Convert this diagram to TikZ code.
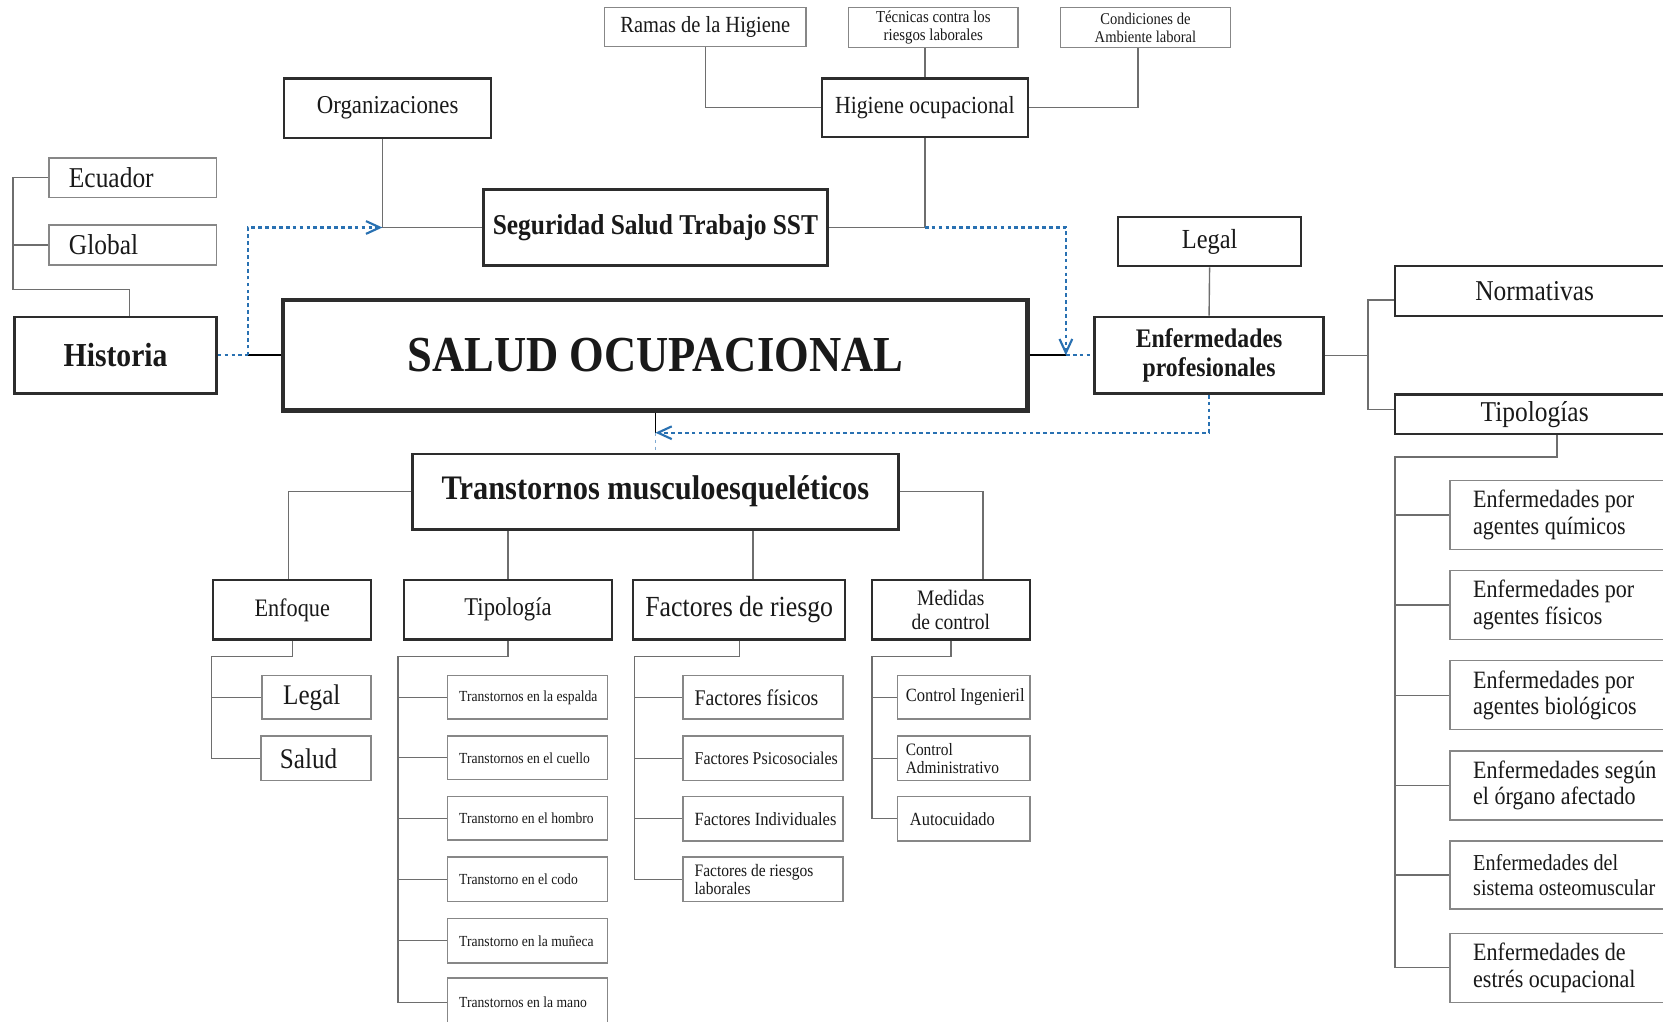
\documentclass[tikz,border=0pt]{standalone}
\usepackage{fontspec}
\setmainfont{Liberation Serif}[FakeStretch=0.885]
\usetikzlibrary{arrows.meta}
\definecolor{linkblue}{RGB}{41,113,178}
\definecolor{boxdark}{RGB}{45,45,45}
\definecolor{boxgray}{RGB}{135,135,135}
\definecolor{wirecol}{RGB}{110,110,110}
\definecolor{ink}{RGB}{25,25,25}
\newcommand{\fsz}[2]{\fontsize{#1}{#2}\selectfont}
\tikzset{
  nbox/.style={draw=boxdark, line width=2pt, text=ink, inner sep=0pt, align=center},
  mainbox/.style={nbox, line width=2.6pt},
  minor/.style={nbox, draw=boxgray, line width=1.4pt},
  lefttext/.style={align=flush left, inner xsep=#1},
  wire/.style={draw=wirecol, line width=1.3pt},
  heavy/.style={draw=black, line width=2.2pt},
  dotlink/.style={draw=linkblue, line width=2pt, dash pattern=on 3.5pt off 3pt},
  barb/.style={-{Straight Barb[length=13pt,width=12pt,line width=2pt]}}
}
\begin{document}
\begin{tikzpicture}[x=1pt,y=-1pt]
\clip (0,0) rectangle (1568,963);
\fill[white] (0,0) rectangle (1568,963);

% ---------- upper branch: hygiene ----------
\node[minor, minimum width=190, minimum height=37, font={\fsz{21.8}{25}}] (ramas) at (665,25.5) {Ramas de la Higiene};
\node[minor, minimum width=160, minimum height=38, font={\fsz{15.8}{17}}] (tec) at (880,26) {Técnicas contra los\\riesgos laborales};
\node[minor, minimum width=160, minimum height=38, font={\fsz{15.5}{17}}] (cond) at (1080,26) {Condiciones de\\Ambiente laboral};
\node[nbox, minimum width=194, minimum height=55, font={\fsz{23.2}{26}}] (hig) at (872,101.5) {Higiene ocupacional};
\node[nbox, minimum width=195, minimum height=56, font={\fsz{24.3}{27}}] (org) at (365.5,102) {Organizaciones};
\node[mainbox, minimum width=324, minimum height=71, font={\bfseries\fsz{27.1}{30}}] (sst) at (618,214.5) {Seguridad Salud Trabajo SST};

% ---------- history ----------
\node[minor, lefttext=19, text width=120, minimum height=37, font={\fsz{27.1}{30}}] (ecu) at (125,167.5) {Ecuador};
\node[minor, lefttext=19, text width=120, minimum height=38, font={\fsz{27.1}{30}}] (glob) at (125,231) {Global};
\node[mainbox, minimum width=190, minimum height=72, font={\bfseries\fsz{31.6}{34}}] (hist) at (109,335) {Historia};

% ---------- centre ----------
\node[mainbox, line width=4.2pt, minimum width=702, minimum height=104, font={\bfseries\fsz{47.5}{50}}] (salud) at (618,335) {SALUD OCUPACIONAL};

% ---------- occupational diseases ----------
\node[nbox, minimum width=173, minimum height=46, font={\fsz{26}{29}}] (legal) at (1140.5,228) {Legal};
\node[mainbox, minimum width=216, minimum height=72, font={\bfseries\fsz{25.3}{27}}] (enf) at (1140,335) {Enfermedades\\profesionales};
\node[nbox, minimum width=264, minimum height=47, font={\fsz{27.1}{30}}] (norm) at (1447,274.5) {Normativas};
\node[nbox, minimum width=264, minimum height=37, font={\fsz{27.1}{30}}] (tip) at (1447,390.5) {Tipologías};
\node[minor, lefttext=22, text width=186, minimum height=65, font={\fsz{23.5}{25}}] (ep1) at (1482,485.5) {\mbox{Enfermedades por}\\\mbox{agentes químicos}};
\node[minor, lefttext=22, text width=186, minimum height=65, font={\fsz{23.5}{25}}] (ep2) at (1482,570.5) {\mbox{Enfermedades por}\\\mbox{agentes físicos}};
\node[minor, lefttext=22, text width=186, minimum height=65, font={\fsz{23.5}{25}}] (ep3) at (1482,655.5) {\mbox{Enfermedades por}\\\mbox{agentes biológicos}};
\node[minor, lefttext=22, text width=186, minimum height=65, font={\fsz{23.5}{25}}] (ep4) at (1482,740.5) {\mbox{Enfermedades según}\\\mbox{el órgano afectado}};
\node[minor, lefttext=22, text width=186, minimum height=64, font={\fsz{21.5}{24}}] (ep5) at (1482,825) {\mbox{Enfermedades del}\\\mbox{sistema osteomuscular}};
\node[minor, lefttext=22, text width=186, minimum height=65, font={\fsz{23.5}{25}}] (ep6) at (1482,912.5) {\mbox{Enfermedades de}\\\mbox{estrés ocupacional}};

% ---------- musculoskeletal disorders ----------
\node[mainbox, minimum width=458, minimum height=71, font={\bfseries\fsz{32.4}{35}}] (tr) at (618,463.5) {Transtornos musculoesqueléticos};
\node[nbox, minimum width=149, minimum height=56, font={\fsz{23.7}{26}}] (enfq) at (275.5,575) {Enfoque};
\node[nbox, minimum width=196, minimum height=56, font={\fsz{24.1}{26}}] (tipo) at (479,575) {Tipología};
\node[nbox, minimum width=200, minimum height=56, font={\fsz{27.5}{30}}] (fac) at (697,575) {Factores de riesgo};
\node[nbox, minimum width=149, minimum height=56, font={\fsz{20.8}{23}}] (med) at (896.5,575) {Medidas\\de control};

\node[minor, lefttext=20, text width=63, minimum height=41, font={\fsz{26.8}{29}}] (leg2) at (298.5,657.5) {Legal};
\node[minor, lefttext=18, text width=68, minimum height=42, font={\fsz{26.8}{29}}] (sal) at (298,715) {Salud};

\node[minor, lefttext=11, text width=129, minimum height=41, font={\fsz{14.5}{17}}] (t1) at (497.5,657.5) {\mbox{Transtornos en la espalda}};
\node[minor, lefttext=11, text width=129, minimum height=41, font={\fsz{14.5}{17}}] (t2) at (497.5,714.5) {\mbox{Transtornos en el cuello}};
\node[minor, lefttext=11, text width=129, minimum height=41, font={\fsz{14.5}{17}}] (t3) at (497.5,771.5) {\mbox{Transtorno en el hombro}};
\node[minor, lefttext=11, text width=129, minimum height=42, font={\fsz{14.5}{17}}] (t4) at (497.5,829) {\mbox{Transtorno en el codo}};
\node[minor, lefttext=11, text width=129, minimum height=42, font={\fsz{14.5}{17}}] (t5) at (497.5,887) {\mbox{Transtorno en la muñeca}};
\node[minor, lefttext=11, text width=129, minimum height=46, font={\fsz{14.5}{17}}] (t6) at (497.5,945) {\mbox{Transtornos en la mano}};

\node[minor, lefttext=11, text width=129, minimum height=41, font={\fsz{21.1}{24}}] (f1) at (719.5,657.5) {\mbox{Factores físicos}};
\node[minor, lefttext=11, text width=129, minimum height=42, font={\fsz{17}{19}}] (f2) at (719.5,715) {\mbox{Factores Psicosociales}};
\node[minor, lefttext=11, text width=129, minimum height=42, font={\fsz{17.6}{19}}] (f3) at (719.5,772) {\mbox{Factores Individuales}};
\node[minor, lefttext=11, text width=129, minimum height=42, font={\fsz{16.5}{17}}] (f4) at (719.5,829) {\mbox{Factores de riesgos}\\laborales};

\node[minor, lefttext=8, text width=109, minimum height=41, font={\fsz{17.6}{19}}] (m1) at (908.5,657.5) {\mbox{Control Ingenieril}};
\node[minor, lefttext=8, text width=109, minimum height=42, font={\fsz{16.4}{17}}] (m2) at (908.5,715) {Control\\\mbox{Administrativo}};
\node[minor, lefttext=12, text width=101, minimum height=42, font={\fsz{17.5}{19}}] (m3) at (908.5,772) {Autocuidado};

% ---------- junctions ----------
\coordinate (jT) at (hig.south |- sst.east);
\coordinate (jO) at ([xshift=-5]org.south |- sst.west);
\coordinate (jL) at (234,335);
\coordinate (jR) at (1005,335);
\coordinate (jB) at (618,408);
\coordinate (jE) at (1290,335);

% ---------- connectors: upper branch ----------
\draw[wire] (ramas.south) |- (hig.west);
\draw[wire] (hig.north) -- (hig.north |- tec.south);
\draw[wire] ([xshift=-7]cond.south) |- (hig.east);
\draw[wire] (hig.south) -- (jT) -- (sst.east);
\draw[wire] ([xshift=-5]org.south) -- (jO) -- (sst.west);

% ---------- connectors: history ----------
\draw[wire] ([xshift=13]hist.north) -- ++(0,-25) -| ([xshift=-33]ecu.west) -- (ecu.west);
\draw[wire] (glob.west) -- ++(-33,0);

% ---------- connectors: around the centre ----------
\draw[dotlink] (hist.east) -- (jL);
\draw[heavy] (jL) -- (salud.west);
\draw[dotlink, barb] (jL) |- (jO);
\draw[heavy] (salud.east) -- (jR);
\draw[dotlink] (jR) -- (enf.west);
\draw[dotlink, barb] (jT) -| (jR);
\draw[heavy, line width=1.6pt] (salud.south) -- (jB);
\draw[dotlink, barb] (enf.south) |- (jB);
\draw[dotlink, line width=1pt, draw=linkblue!60] (jB) -- (tr.north);

% ---------- connectors: occupational diseases ----------
\draw[wire] (legal.south) -- (enf.north);
\draw[wire] (enf.east) -- (jE);
\draw[wire] ([yshift=-8.5]norm.west) -| (jE) |- ([yshift=4.5]tip.west);
\draw[wire] ([xshift=21]tip.south) -- ++(0,21) -| ([xshift=-51]ep6.west) -- (ep6.west);
\foreach \i in {1,...,5} \draw[wire] (ep\i.west) -- ++(-51,0);

% ---------- connectors: musculoskeletal disorders ----------
\draw[wire] (tr.west) -| ([xshift=-3.5]enfq.north);
\draw[wire] (tipo.north) -- (tipo.north |- tr.south);
\draw[wire] ([xshift=13]fac.north) -- ([xshift=13]fac.north |- tr.south);
\draw[wire] (tr.east) -| ([xshift=30.5]med.north);

\draw[wire] (enfq.south) -- ++(0,15) -| ([xshift=-46]sal.west) -- (sal.west);
\draw[wire] (leg2.west) -- ++(-47,0);
\draw[wire] (tipo.south) -- ++(0,15) -| ([xshift=-46]t6.west) -- (t6.west);
\foreach \i in {1,...,5} \draw[wire] (t\i.west) -- ++(-46,0);
\draw[wire] (fac.south) -- ++(0,15) -| ([xshift=-45]f4.west) -- (f4.west);
\foreach \i in {1,...,3} \draw[wire] (f\i.west) -- ++(-45,0);
\draw[wire] (med.south) -- ++(0,15) -| ([xshift=-23]m3.west) -- (m3.west);
\foreach \i in {1,2} \draw[wire] (m\i.west) -- ++(-23,0);
\end{tikzpicture}
\end{document}
